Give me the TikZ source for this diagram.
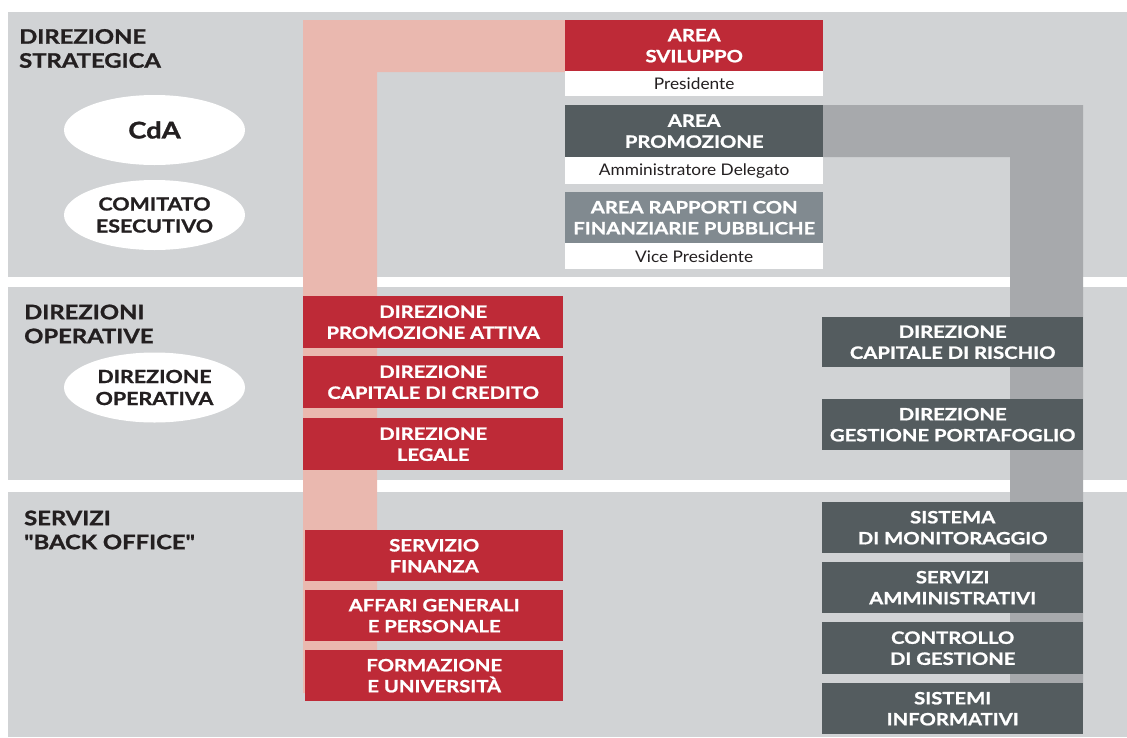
\documentclass[tikz,border=0pt]{standalone}
\usepackage{fontspec}
\setmainfont{Lato}
\newfontfamily\wideb{Lato}[FakeStretch=1.19,FakeBold=1.2]
\newfontfamily\wider{Lato}[FakeStretch=1.08]
\usetikzlibrary{shapes.geometric}
\definecolor{bandc}{HTML}{D1D3D5}
\definecolor{pinkc}{HTML}{EAB8AF}
\definecolor{redc}{HTML}{BE2A37}
\definecolor{darkc}{HTML}{545C5F}
\definecolor{midc}{HTML}{818A90}
\definecolor{grayc}{HTML}{A7A9AC}
\definecolor{txtc}{HTML}{231F20}
\begin{document}
\begin{tikzpicture}[x=1pt,y=-1pt,
  blk/.style={anchor=north west, inner sep=0pt, align=center, text=white,
    font=\wideb\bfseries\fontsize{17}{21}\selectfont},
  redblk/.style={blk, fill=redc},
  darkblk/.style={blk, fill=darkc},
  midblk/.style={blk, fill=midc},
  subblk/.style={anchor=north west, inner sep=0pt, fill=white, text=txtc,
    font=\wider\fontsize{16}{18}\selectfont},
  ell/.style={ellipse, fill=white, inner sep=0pt, minimum width=181pt,
    minimum height=70pt, align=center, text=txtc,
    font=\wideb\bfseries\fontsize{18}{22}\selectfont},
  ttl/.style={anchor=west, inner sep=0pt, align=left, text=txtc,
    font=\wideb\bfseries\fontsize{20}{24}\selectfont}]
\useasboundingbox (0,0) rectangle (1127,737);
\fill[white] (0,0) rectangle (1127,737);
% bands
\fill[bandc] (8,12) rectangle (1127,277);
\fill[bandc] (8,287) rectangle (1127,480);
\fill[bandc] (8,492) rectangle (1127,737);
% L bars
\fill[pinkc] (303,693) -- (303,20) -- (565,20) -- (565,72) -- (377,72) -- (377,693) -- cycle;
\fill[grayc] (823,105) -- (1083,105) -- (1083,700) -- (1010,700) -- (1010,157) -- (823,157) -- cycle;
% titles
\node[ttl] (t1) at (19,48.5) {DIREZIONE\\STRATEGICA};
\node[ttl] (t2) at (24,324) {DIREZIONI\\OPERATIVE};
\node[ttl] (t3) at (24,530) {SERVIZI\\\char34 BACK OFFICE\char34};
% ellipses
\node[ell, font=\wideb\bfseries\fontsize{23}{26}\selectfont] (cda) at (154.5,130) {CdA};
\node[ell] (ce) at (154.5,215) {COMITATO\\ESECUTIVO};
\node[ell] (dop) at (154.5,387.5) {DIREZIONE\\OPERATIVA};
% areas
\node[redblk, minimum width=258pt, minimum height=51pt] (svil) at (565,20) {AREA\\SVILUPPO};
\node[subblk, minimum width=258pt, minimum height=25pt] (pres) at (565,71) {Presidente};
\node[darkblk, minimum width=258pt, minimum height=52pt] (prom) at (565,105) {AREA\\PROMOZIONE};
\node[subblk, minimum width=258pt, minimum height=27pt] (ad) at (565,157) {Amministratore Delegato};
\node[midblk, minimum width=258pt, minimum height=51pt] (rapp) at (565,192) {AREA RAPPORTI CON\\FINANZIARIE PUBBLICHE};
\node[subblk, minimum width=258pt, minimum height=26pt] (vp) at (565,243) {Vice Presidente};
% left red
\node[redblk, minimum width=260pt, minimum height=52pt] (dpa) at (303,296) {DIREZIONE\\PROMOZIONE ATTIVA};
\node[redblk, minimum width=260pt, minimum height=52pt] (dcc) at (303,356) {DIREZIONE\\CAPITALE DI CREDITO};
\node[redblk, minimum width=260pt, minimum height=52pt] (dl) at (303,418) {DIREZIONE\\LEGALE};
\node[redblk, minimum width=258pt, minimum height=51pt] (sf) at (305,530) {SERVIZIO\\FINANZA};
\node[redblk, minimum width=258pt, minimum height=51pt] (ag) at (305,590) {AFFARI GENERALI\\E PERSONALE};
\node[redblk, minimum width=258pt, minimum height=51pt] (fu) at (305,650) {FORMAZIONE\\E UNIVERSITÀ};
% right dark
\node[darkblk, minimum width=261pt, minimum height=50pt] (dcr) at (822,317) {DIREZIONE\\CAPITALE DI RISCHIO};
\node[darkblk, minimum width=261pt, minimum height=51pt] (dgp) at (822,399) {DIREZIONE\\GESTIONE PORTAFOGLIO};
\node[darkblk, minimum width=261pt, minimum height=51pt] (sm) at (822,502) {SISTEMA\\DI MONITORAGGIO};
\node[darkblk, minimum width=261pt, minimum height=51pt] (sa) at (822,562) {SERVIZI\\AMMINISTRATIVI};
\node[darkblk, minimum width=261pt, minimum height=52pt] (cg) at (822,622) {CONTROLLO\\DI GESTIONE};
\node[darkblk, minimum width=261pt, minimum height=51pt] (si) at (822,683) {SISTEMI\\INFORMATIVI};
\end{tikzpicture}
\end{document}
